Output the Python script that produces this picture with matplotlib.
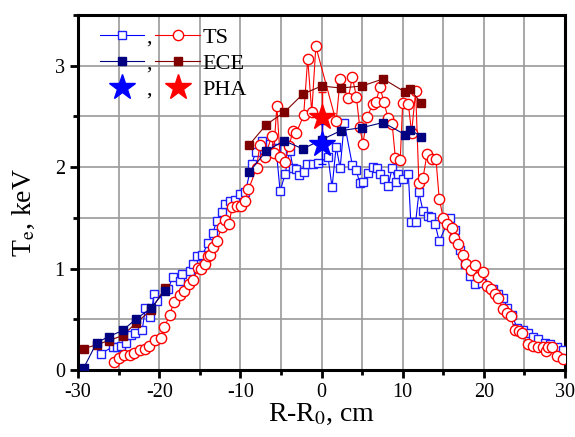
import numpy as np
import matplotlib
matplotlib.use("Agg")
import matplotlib.pyplot as plt

# TS, blue (open squares)
ts_b_x = [-27.2, -25.7, -25.2, -24.7, -24.1, -23.5, -23.0, -22.1, -21.7, -21.1,
          -20.6, -20.3, -18.9, -18.3, -17.4, -17.2, -16.2, -15.8, -15.3, -14.7,
          -14.0, -13.4, -12.9, -12.3, -11.9, -11.3, -10.7, -10.0, -9.4, -8.6,
          -8.1, -7.3, -6.3, -5.6, -5.1, -4.5, -3.9, -3.5, -3.2, -2.8,
          -2.2, -1.8, -1.1, -0.4, 0.8, 1.3, 1.8, 2.3, 2.8, 3.8,
          4.3, 4.7, 5.1, 5.7, 6.3, 6.8, 7.2, 7.7, 8.2, 8.7,
          9.2, 9.4, 10.0, 10.7, 11.0, 11.6, 12.0, 12.5, 13.1, 13.5,
          14.0, 14.5, 15.8, 16.4, 16.3, 17.1, 17.7, 18.3, 18.9, 19.8,
          21.1, 21.7, 22.4, 22.9, 23.5, 24.1, 24.8, 25.4, 26.1, 26.7,
          27.5, 28.2, 29.0, 29.8]
ts_b_y = [0.16, 0.23, 0.23, 0.24, 0.27, 0.35, 0.36, 0.39, 0.61, 0.52,
          0.75, 0.68, 0.80, 0.92, 0.88, 0.95, 0.98, 1.05, 1.12, 1.13,
          1.25, 1.35, 1.47, 1.56, 1.64, 1.67, 1.68, 1.74, 1.75, 2.03,
          2.15, 2.26, 2.23, 2.19, 1.76, 1.93, 2.16, 1.99, 1.98, 1.92,
          1.95, 2.03, 2.03, 2.04, 2.10, 1.80, 2.20, 1.99, 2.44, 2.02,
          1.97, 1.84, 1.85, 1.94, 2.00, 1.99, 1.93, 1.88, 1.81, 1.99,
          1.85, 1.93, 1.88, 1.93, 1.46, 1.46, 1.75, 1.57, 1.52, 1.51,
          1.44, 1.27, 1.50, 1.38, 1.30, 1.18, 1.05, 0.93, 0.85, 0.86,
          0.80, 0.75, 0.71, 0.61, 0.54, 0.41, 0.39, 0.36, 0.33, 0.31,
          0.27, 0.26, 0.23, 0.20]

# TS, red (open circles)
ts_r_x = [-25.6, -25.0, -24.3, -23.6, -23.1, -22.4, -21.7, -21.2, -20.5, -19.8,
          -19.4, -18.7, -18.2, -17.4, -17.0, -16.3, -15.8, -15.2, -14.8, -14.4,
          -14.0, -13.7, -13.4, -12.9, -12.3, -11.9, -11.4, -11.0, -10.4, -9.9,
          -9.4, -9.0, -8.0, -7.6, -7.0, -6.1, -5.9, -5.5, -5.1, -4.5,
          -4.0, -3.5, -3.1, -2.2, -1.7, -1.2, -0.7, 1.8, 2.3, 3.3,
          3.8, 4.3, 4.7, 5.1, 5.6, 6.3, 6.7, 7.2, 7.7, 8.2,
          8.7, 9.1, 9.7, 10.0, 10.7, 11.1, 11.6, 12.0, 12.5, 13.0,
          13.6, 14.1, 14.5, 15.0, 15.5, 16.1, 16.3, 16.8, 17.4, 17.8,
          18.4, 18.9, 19.3, 19.9, 20.4, 20.9, 21.4, 21.7, 22.4, 22.9,
          23.3, 23.8, 24.3, 24.7, 25.4, 26.0, 26.7, 27.3, 27.7, 27.9,
          28.4, 29.0, 29.8]
ts_r_y = [0.08, 0.12, 0.15, 0.15, 0.17, 0.20, 0.21, 0.24, 0.30, 0.32,
          0.42, 0.54, 0.67, 0.74, 0.78, 0.85, 0.89, 1.01, 1.00, 1.05,
          1.12, 1.13, 1.21, 1.27, 1.41, 1.48, 1.44, 1.61, 1.62, 1.62,
          1.67, 1.78, 1.99, 2.22, 2.10, 2.31, 2.14, 2.60, 2.10, 2.05,
          2.21, 2.36, 2.34, 2.51, 3.07, 2.54, 3.19, 2.45, 2.87, 2.68,
          2.89, 2.69, 2.40, 2.23, 2.49, 2.62, 2.64, 2.79, 2.64, 2.48,
          2.43, 2.09, 2.07, 2.63, 2.62, 2.34, 2.75, 1.84, 1.89, 2.13,
          2.08, 2.08, 1.69, 1.50, 1.44, 1.40, 1.30, 1.24, 1.13, 1.05,
          0.99, 1.04, 0.92, 0.97, 0.83, 0.80, 0.75, 0.71, 0.60, 0.56,
          0.53, 0.39, 0.38, 0.36, 0.26, 0.24, 0.23, 0.23, 0.19, 0.23,
          0.23, 0.14, 0.11]

# ECE (two groups of channels, not joined across the gap)
ece_x = [-29.3, -27.7, -26.2, -24.5, -22.9, -21.0, -19.3, -8.9, -6.8, -4.6,
         -2.3, 0.0, 2.4, 5.0, 7.6, 10.3, 10.9, 12.3]
ece_b_y = [0.02, 0.27, 0.33, 0.39, 0.50, 0.61, 0.78, 1.95, 2.16, 2.26,
           2.18, 2.27, 2.36, 2.39, 2.44, 2.32, 2.37, 2.30]
ece_r_y = [0.21, 0.25, 0.29, 0.34, 0.46, 0.59, 0.81, 2.22, 2.42, 2.54,
           2.72, 2.80, 2.78, 2.80, 2.87, 2.74, 2.77, 2.63]
ece_split = 7

# PHA
pha_x = [0.0]
pha_b_y = [2.23]
pha_b_err = [0.2]
pha_r_y = [2.49]
pha_r_err = [0.25]

plt.rcParams['font.family'] = ['Liberation Serif', 'DejaVu Serif']
plt.rcParams['mathtext.fontset'] = 'stix'
plt.rcParams['axes.unicode_minus'] = False

fig = plt.figure(figsize=(5.75, 4.37), dpi=100)
ax = fig.add_axes([0.1357, 0.1533, 0.8469, 0.8124])

h1, = ax.plot(ts_b_x, ts_b_y, '-', color='#0000FF', lw=0.8, marker='s', ms=5.6,
              mfc='white', mec='#2020FF', mew=1.0, zorder=3)
h2, = ax.plot(ts_r_x, ts_r_y, '-', color='#FF0000', lw=0.8, marker='o', ms=7.4,
              mfc='white', mec='#FF0000', mew=1.0, zorder=4)

h4 = h3 = None
for seg in (slice(0, ece_split), slice(ece_split, None)):
    h4, = ax.plot(ece_x[seg], ece_r_y[seg], '-', color='#800000', lw=0.8,
                  marker='s', ms=6, mfc='#800000', mec='#800000', zorder=5)
for seg in (slice(0, ece_split), slice(ece_split, None)):
    h3, = ax.plot(ece_x[seg], ece_b_y[seg], '-', color='#000080', lw=0.8,
                  marker='s', ms=6, mfc='#000080', mec='#000080', zorder=6)

ax.errorbar(pha_x, pha_r_y, yerr=pha_r_err, fmt='none', ecolor='#FF0000',
            elinewidth=1, capsize=3, zorder=7)
ax.errorbar(pha_x, pha_b_y, yerr=pha_b_err, fmt='none', ecolor='#0000FF',
            elinewidth=1, capsize=3, zorder=7)
h6, = ax.plot(pha_x, pha_r_y, linestyle='none', marker='*', ms=19,
              color='#FF0000', zorder=8)
h5, = ax.plot(pha_x, pha_b_y, linestyle='none', marker='*', ms=19,
              color='#0000FF', zorder=8)

ax.set_xlim(-30, 30)
ax.set_ylim(0, 3.5)
ax.set_xticks(np.arange(-30, 31, 10))
ax.set_xticks(np.arange(-25, 30, 10), minor=True)
ax.set_yticks([0, 1, 2, 3])
ax.set_yticks([0.5, 1.5, 2.5, 3.5], minor=True)
ax.grid(True, which='both', color='#9a9a9a', lw=1.2)
ax.set_axisbelow(True)

for s in ax.spines.values():
    s.set_linewidth(2.2)
ax.tick_params(which='major', direction='out', length=6, width=2, labelsize=14.5)
ax.tick_params(which='minor', direction='out', length=3.5, width=2)

ax.set_xlabel(r'R-R$_0$, cm', fontsize=20, labelpad=0)
ax.set_ylabel(r'T$_\mathrm{e}$, keV', fontsize=20)
ax.yaxis.set_label_coords(-0.085, 0.445)

ax.legend([h1, h3, h5, h2, h4, h6], [',', ',', ',', 'TS', 'ECE', 'PHA'],
          ncol=2, loc='upper left', bbox_to_anchor=(0.02, 1.0), frameon=False,
          fontsize=16, handlelength=2.0, handletextpad=0.1, columnspacing=0.15,
          labelspacing=0.25, borderaxespad=0.15, markerscale=1.0)

fig.savefig('out.png', dpi=100)
